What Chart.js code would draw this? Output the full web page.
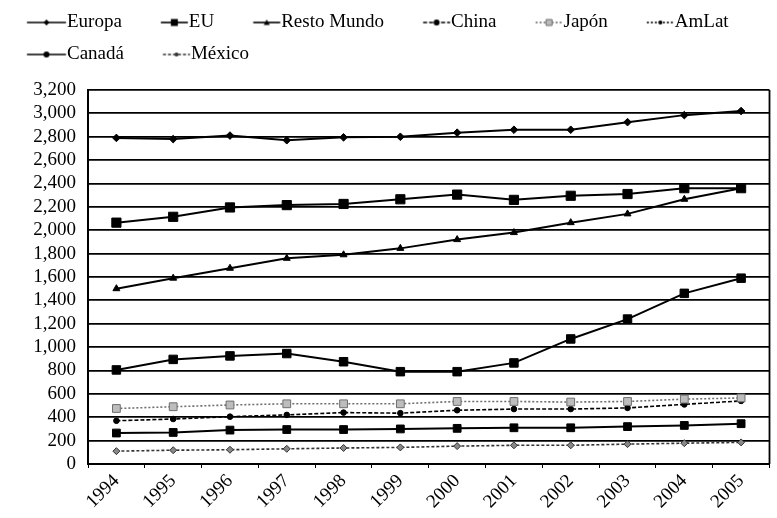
<!DOCTYPE html>
<html>
<head>
<meta charset="utf-8">
<script src="https://cdn.jsdelivr.net/npm/chart.js@4"></script>
<style>
  html, body { margin: 0; padding: 0; background: #fff; }
  #wrap { width: 777px; height: 518px; }
</style>
</head>
<body>
<div id="wrap"><canvas id="grafico"></canvas></div>
<script>
// ─── Datos ────────────────────────────────────────────────────────────────────
const anios      = ['1994', '1995', '1996', '1997', '1998', '1999', '2000', '2001', '2002', '2003', '2004', '2005'];
const europa     = [2790, 2780, 2810, 2770, 2795, 2800, 2835, 2860, 2860, 2925, 2985, 3020];
const eu         = [2065, 2115, 2195, 2215, 2225, 2265, 2305, 2260, 2295, 2310, 2360, 2360];
const restoMundo = [1500, 1590, 1675, 1760, 1790, 1845, 1920, 1980, 2065, 2140, 2265, 2360];
const china      = [805, 895, 925, 945, 875, 790, 790, 865, 1070, 1240, 1460, 1590];
const japon      = [475, 490, 505, 515, 515, 515, 535, 535, 530, 535, 555, 565];
const amlat      = [370, 385, 405, 420, 440, 435, 460, 470, 470, 480, 510, 540];
const canada     = [265, 270, 290, 295, 295, 300, 305, 310, 310, 320, 330, 345];
const mexico     = [110, 118, 122, 130, 137, 142, 153, 160, 160, 170, 178, 185];

const yMin = 0, yMax = 3200, yPaso = 200;

// ─── Estilo general ───────────────────────────────────────────────────────────
const FUENTE = '"Liberation Serif", "DejaVu Serif", serif';
const NEGRO  = '#000';
const GRIS   = '#6e6e6e';

// ─── Iconos de la leyenda: trozo de línea + marcador ──────────────────────────
const TAM_LEYENDA = 19;
const CAJA_W      = 44.5;   // ancho reservado (pointStyleWidth)
const ICONO_W     = 124;

function iconoLeyenda(dash, color, marcador, inicio) {
  const c = document.createElement('canvas');
  c.width = ICONO_W; c.height = 14;
  const g = c.getContext('2d');
  const largo = CAJA_W + TAM_LEYENDA / 2 - inicio - 1;
  const x0 = inicio + ICONO_W / 2 - CAJA_W / 2;
  const xm = x0 + largo / 2, ym = 7;
  g.strokeStyle = color; g.lineWidth = 1.6;
  g.setLineDash(dash);
  g.beginPath(); g.moveTo(x0, ym); g.lineTo(x0 + largo, ym); g.stroke();
  g.setLineDash([]);
  g.fillStyle = color;
  g.beginPath();
  if (marcador === 'rombo') {
    g.moveTo(xm, ym - 3); g.lineTo(xm + 3, ym); g.lineTo(xm, ym + 3); g.lineTo(xm - 3, ym); g.fill();
  } else if (marcador === 'cuadro') {
    g.rect(xm - 3.5, ym - 3.5, 7, 7); g.fill();
  } else if (marcador === 'triangulo') {
    g.moveTo(xm, ym - 3); g.lineTo(xm + 3, ym + 2.5); g.lineTo(xm - 3, ym + 2.5); g.fill();
  } else if (marcador === 'cuadroGris') {
    g.fillStyle = '#bbb'; g.rect(xm - 3, ym - 3, 6, 6); g.fill();
    g.strokeStyle = GRIS; g.lineWidth = 1; g.stroke();
  } else {
    g.arc(xm, ym, marcador === 'punto' ? 3 : 2, 0, Math.PI * 2); g.fill();
  }
  return c;
}

// ─── Series ───────────────────────────────────────────────────────────────────
const series = [
  { label: 'Europa',      data: europa,     dash: [],     color: NEGRO, punto: 'rectRot',  radio: 3.8, relleno: NEGRO,  icono: iconoLeyenda([], NEGRO, 'rombo', 14) },
  { label: 'EU',          data: eu,         dash: [],     color: NEGRO, punto: 'rect',     radio: 6.5, relleno: NEGRO,  icono: iconoLeyenda([], NEGRO, 'cuadro', 26) },
  { label: 'Resto Mundo', data: restoMundo, dash: [],     color: NEGRO, punto: 'triangle', radio: 4,   relleno: NEGRO,  icono: iconoLeyenda([], NEGRO, 'triangulo', 26) },
  { label: 'China',       data: china,      dash: [],     color: NEGRO, punto: 'rect',     radio: 6,   relleno: NEGRO,  icono: iconoLeyenda([4, 2], NEGRO, 'punto', 26) },
  { label: 'Japón',       data: japon,      dash: [2, 2], color: GRIS,  punto: 'rect',     radio: 5.5, relleno: '#bdbdbd', icono: iconoLeyenda([2, 2], GRIS, 'cuadroGris', 26) },
  { label: 'AmLat',       data: amlat,      dash: [4, 2], color: NEGRO, punto: 'circle',   radio: 2.8, relleno: NEGRO,  icono: iconoLeyenda([2, 2], NEGRO, 'puntito', 26) },
  { label: 'Canadá',      data: canada,     dash: [],     color: NEGRO, punto: 'rect',     radio: 5.5, relleno: NEGRO,  icono: iconoLeyenda([], NEGRO, 'punto', 14) },
  { label: 'México',      data: mexico,     dash: [3, 2], color: '#333', punto: 'rectRot', radio: 3.5, relleno: '#888', icono: iconoLeyenda([3, 2], '#333', 'puntito', 26) }
];

// ─── Marco derecho del área de trazado ────────────────────────────────────────
const marcoPlugin = {
  id: 'marco',
  beforeDatasetsDraw(chart) {
    const { ctx, chartArea: a } = chart;
    ctx.save();
    ctx.strokeStyle = NEGRO;
    ctx.lineWidth = 1.8;
    ctx.beginPath();
    ctx.moveTo(a.right, a.top);
    ctx.lineTo(a.right, a.bottom);
    ctx.stroke();
    ctx.restore();
  }
};

// Un poco más de espacio bajo la leyenda
const espacioLeyenda = {
  id: 'espacioLeyenda',
  beforeInit(chart) {
    const fitOriginal = chart.legend.fit;
    chart.legend.fit = function () {
      fitOriginal.bind(chart.legend)();
      this.height += 16;
    };
  }
};

// ─── Gráfico ──────────────────────────────────────────────────────────────────
const ctx = document.getElementById('grafico').getContext('2d');
const grafico = new Chart(ctx, {
  type: 'line',
  data: {
    labels: anios,
    datasets: series.map(s => ({
      label: s.label,
      data: s.data,
      borderColor: s.color,
      borderWidth: s.dash.length ? 1.6 : 2,
      borderDash: s.dash,
      tension: 0,
      fill: false,
      pointStyle: s.punto,
      pointRadius: s.radio,
      pointBackgroundColor: s.relleno,
      pointBorderColor: s.color,
      pointBorderWidth: 1
    }))
  },
  options: {
    responsive: true,
    maintainAspectRatio: false,
    animation: false,
    layout: { padding: { left: 0, right: 7, top: 0, bottom: 0 } },
    plugins: {
      legend: {
        position: 'top',
        align: 'start',
        labels: {
          usePointStyle: true,
          pointStyleWidth: CAJA_W,
          padding: 13,
          color: NEGRO,
          font: { family: FUENTE, size: TAM_LEYENDA },
          generateLabels(chart) {
            return chart.data.datasets.map((ds, i) => ({
              text: ds.label,
              pointStyle: series[i].icono,
              datasetIndex: i,
              hidden: false,
              lineWidth: 0,
              fillStyle: NEGRO,
              strokeStyle: NEGRO,
              fontColor: NEGRO
            }));
          }
        }
      },
      tooltip: { enabled: false }
    },
    scales: {
      x: {
        offset: true,
        grid: { display: true, drawOnChartArea: false, drawTicks: true, tickLength: 4, offset: true, color: NEGRO },
        border: { display: true, color: NEGRO, width: 2 },
        ticks: {
          autoSkip: false,
          minRotation: 45,
          maxRotation: 45,
          padding: 2,
          color: NEGRO,
          font: { family: FUENTE, size: 19 }
        },
        afterFit(scale) { scale.height = 54; }
      },
      y: {
        min: yMin,
        max: yMax,
        grid: { color: NEGRO, lineWidth: 1.8, drawTicks: false },
        border: { display: true, color: NEGRO, width: 2 },
        ticks: {
          stepSize: yPaso,
          autoSkip: false,
          padding: 12,
          color: NEGRO,
          font: { family: FUENTE, size: 19 }
        },
        afterFit(scale) { scale.width = 88; }
      }
    }
  },
  plugins: [marcoPlugin, espacioLeyenda]
});
</script>
</body>
</html>
